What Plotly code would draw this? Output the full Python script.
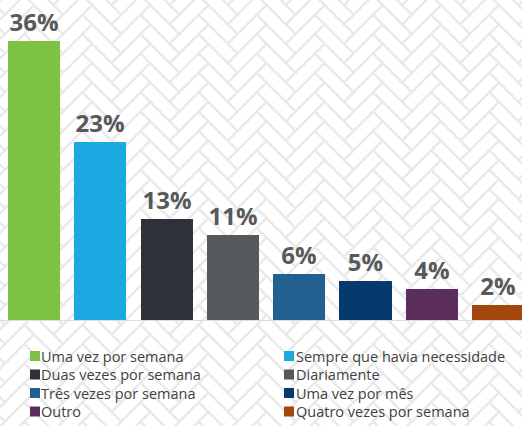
import base64
import math
import plotly.graph_objects as go

categories = ["Uma vez por semana", "Sempre que havia necessidade", "Duas vezes por semana",
              "Diariamente", "Três vezes por semana", "Uma vez por mês", "Outro",
              "Quatro vezes por semana"]
values = [36, 23, 13, 11, 6, 5, 4, 2]
colors = ["#7dc242", "#1aa9e0", "#2e3238", "#55585d", "#22618f", "#053a6c", "#5b2e5c", "#a3470f"]

W, H = 522, 426
ML, MR, MT, MB = 1, 0, 0, 106
PW, PH = W - ML - MR, H - MT - MB


def px(x):
    return (x - ML) / PW


def py(y):
    return (H - MB - y) / PH


# ---- decorative herringbone background (SVG image) ----
def herringbone_svg(brick=13.7, ox=34.0, oy=5.0, stroke="#eaeaea", sw=2.2):
    s2 = math.sqrt(2)
    parts = []
    for m in range(-25, 26):
        for n in range(-80, 100):
            for (x0, y0, wx, hy) in ((n + 3 * m, n - 3 * m, 3, 1), (n + 3 * m, n - 3 * m + 1, 1, 3)):
                cx, cy = x0 + wx / 2, y0 + hy / 2
                X = (cx - cy) / s2 * brick + ox
                Y = (cx + cy) / s2 * brick + oy
                if -50 < X < W + 50 and -50 < Y < H + 50:
                    parts.append(f'<rect x="{x0}" y="{y0}" width="{wx}" height="{hy}" '
                                 f'vector-effect="non-scaling-stroke"/>')
    svg = (f'<svg xmlns="http://www.w3.org/2000/svg" width="{W}" height="{H}" viewBox="0 0 {W} {H}">'
           f'<rect width="{W}" height="{H}" fill="white"/>'
           f'<g transform="translate({ox},{oy}) rotate(45) scale({brick})" fill="none" '
           f'stroke="{stroke}" stroke-width="{sw}">' + "".join(parts) + '</g></svg>')
    return "data:image/svg+xml;base64," + base64.b64encode(svg.encode()).decode()


fig = go.Figure()
fig.add_trace(go.Bar(
    x=list(range(len(values))), y=values,
    marker=dict(color=colors, line=dict(width=0)),
    width=0.785,
    text=[f"{v}%" for v in values], textposition="outside",
    textfont=dict(family="Open Sans", size=24, color="#58595b", weight="bold"),
    constraintext="none", cliponaxis=False, showlegend=False,
    hoverinfo="skip",
))

shapes = []
annotations = []
col_sq = [30, 284]
col_tx = [41, 296]
row_y = [356, 374.5, 393, 411.5]
for i, (cat, c) in enumerate(zip(categories, colors)):
    col, row = i % 2, i // 2
    yc = row_y[row]
    shapes.append(dict(type="rect", xref="paper", yref="paper",
                       x0=px(col_sq[col]), x1=px(col_sq[col] + 10),
                       y0=py(yc + 5), y1=py(yc - 5),
                       fillcolor=c, line=dict(width=0)))
    annotations.append(dict(text=cat, xref="paper", yref="paper",
                            x=px(col_tx[col] - 2), y=py(yc), xanchor="left", yanchor="middle",
                            showarrow=False,
                            font=dict(family="Open Sans", size=14.5, color="#3f3f3f")))

fig.update_layout(
    width=W, height=H,
    margin=dict(l=ML, r=MR, t=MT, b=MB, pad=0),
    paper_bgcolor="white", plot_bgcolor="rgba(0,0,0,0)",
    xaxis=dict(range=[-0.498, -0.498 + PW / 66.3], showgrid=False, zeroline=False,
               showticklabels=False, showline=True, linecolor="#dddddd", linewidth=1,
               fixedrange=True),
    yaxis=dict(range=[0, PH / 7.75], showgrid=False, zeroline=False,
               showticklabels=False, fixedrange=True),
    shapes=shapes, annotations=annotations,
    images=[dict(source=herringbone_svg(), xref="paper", yref="paper",
                 x=px(0), y=py(0), sizex=W / PW, sizey=H / PH,
                 xanchor="left", yanchor="top", sizing="stretch", layer="below")],
    bargap=0,
)

fig.write_html("out.html", config={"displayModeBar": False},
               post_script="document.body.style.margin='0';document.body.style.overflow='hidden';")
